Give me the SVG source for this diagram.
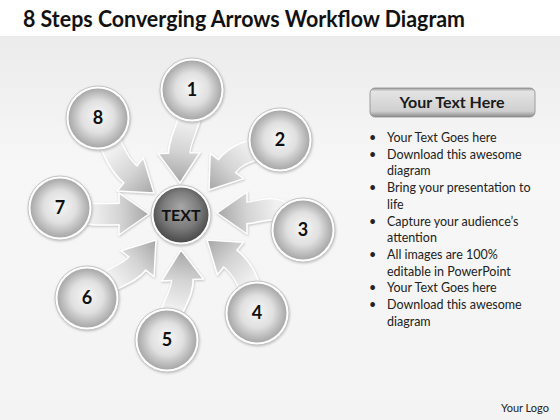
<svg xmlns="http://www.w3.org/2000/svg" xmlns:xlink="http://www.w3.org/1999/xlink" width="560" height="420" viewBox="0 0 560 420">
<defs>
<style>
.title{font-family:Lato,"Open Sans","Liberation Sans",sans-serif;font-weight:bold;font-size:22px;fill:#111}
.num{font-family:Lato,"Open Sans","Liberation Sans",sans-serif;font-weight:bold;font-size:18px;fill:#111;text-anchor:middle}
.ctext{font-family:Lato,"Open Sans","Liberation Sans",sans-serif;font-weight:bold;font-size:16px;fill:#111;text-anchor:middle}
.hdr{font-family:Lato,"Open Sans","Liberation Sans",sans-serif;font-weight:bold;font-size:16px;fill:#1a1a1a;text-anchor:middle}
.bl{font-family:Lato,"Open Sans","Liberation Sans",sans-serif;font-size:12.5px;fill:#222}
.logo{font-family:Lato,"Open Sans","Liberation Sans",sans-serif;font-size:11px;fill:#222}
.so{fill:none;stroke:#fff;stroke-width:23}
.si{fill:none;stroke-width:20}
.hd{stroke:#fff;stroke-width:1.5;stroke-linejoin:round}
.ring{fill:#fff;stroke:#c4c4c4;stroke-width:1;filter:url(#sh)}
.ball{fill:url(#bg)}
</style>
<filter id="sh" x="-20%" y="-20%" width="140%" height="140%">
<feDropShadow dx="0.5" dy="1" stdDeviation="1.2" flood-color="#808080" flood-opacity="0.45"/>
</filter>
<linearGradient id="bgd" x1="0" y1="0" x2="0" y2="1">
<stop offset="0" stop-color="#e8e8e8"/>
<stop offset="0.4" stop-color="#f7f7f7"/>
<stop offset="1" stop-color="#f3f3f3"/>
</linearGradient>
<linearGradient id="ag">
<stop offset="0" stop-color="#f0f0f0"/>
<stop offset="0.5" stop-color="#d4d4d4"/>
<stop offset="1" stop-color="#a6a6a6"/>
</linearGradient>
<linearGradient id="g1" href="#ag" xlink:href="#ag" gradientUnits="userSpaceOnUse" x1="192" y1="122" x2="180" y2="183"/>
<linearGradient id="g2" href="#ag" xlink:href="#ag" gradientUnits="userSpaceOnUse" x1="252" y1="148" x2="209" y2="190"/>
<linearGradient id="g3" href="#ag" xlink:href="#ag" gradientUnits="userSpaceOnUse" x1="276" y1="205" x2="217" y2="213"/>
<linearGradient id="g4" href="#ag" xlink:href="#ag" gradientUnits="userSpaceOnUse" x1="250" y1="282" x2="207" y2="240"/>
<linearGradient id="g5" href="#ag" xlink:href="#ag" gradientUnits="userSpaceOnUse" x1="170" y1="308" x2="181" y2="250"/>
<linearGradient id="g6" href="#ag" xlink:href="#ag" gradientUnits="userSpaceOnUse" x1="112" y1="277" x2="156" y2="240"/>
<linearGradient id="g7" href="#ag" xlink:href="#ag" gradientUnits="userSpaceOnUse" x1="92" y1="216" x2="149" y2="214"/>
<linearGradient id="g8" href="#ag" xlink:href="#ag" gradientUnits="userSpaceOnUse" x1="113" y1="150" x2="154" y2="193"/>
<radialGradient id="bg" cx="0.5" cy="0.5" r="0.5" fx="0.5" fy="0.45">
<stop offset="0" stop-color="#f7f7f7"/>
<stop offset="0.55" stop-color="#e0e0e0"/>
<stop offset="1" stop-color="#a8a8a8"/>
</radialGradient>
<radialGradient id="cg" cx="0.5" cy="0.45" r="0.55" fx="0.5" fy="0.35">
<stop offset="0" stop-color="#a8a8a8"/>
<stop offset="0.6" stop-color="#7c7c7c"/>
<stop offset="1" stop-color="#4a4a4a"/>
</radialGradient>
<linearGradient id="hg" x1="0" y1="0" x2="0" y2="1">
<stop offset="0" stop-color="#9a9a9a"/>
<stop offset="0.12" stop-color="#e4e4e4"/>
<stop offset="0.8" stop-color="#cfcfcf"/>
<stop offset="1" stop-color="#8a8a8a"/>
</linearGradient>
</defs>

<rect x="0" y="0" width="560" height="420" fill="url(#bgd)"/>
<rect x="0" y="0" width="560" height="36" fill="#fff"/>
<text class="title" x="23" y="27" textLength="442" lengthAdjust="spacingAndGlyphs">8 Steps Converging Arrows Workflow Diagram</text>

<g id="connectors" filter="url(#sh)">
<g id="a1">
<path class="so" d="M193 100 C192 122 178.7 139 179.1 153"/>
<polygon class="hd" fill="url(#g1)" points="158.1,153.6 180,183 200.1,152.4"/>
<path class="si" stroke="url(#g1)" d="M193 100 C192 122 178.7 139 179.2 155"/>
</g>
<g id="a2">
<path class="so" d="M272 148 C252 148 235.4 154.8 227 166"/>
<polygon class="hd" fill="url(#g2)" points="210.2,153.4 209,190 243.8,178.6"/>
<path class="si" stroke="url(#g2)" d="M272 148 C252 148 235.4 154.8 225.8 167.6"/>
</g>
<g id="a3">
<path class="so" d="M292 222 C276 200 261 213 247 213"/>
<polygon class="hd" fill="url(#g3)" points="247,192 217,213 247,234"/>
<path class="si" stroke="url(#g3)" d="M292 222 C276 200 261 213 245 213"/>
</g>
<g id="a4">
<path class="so" d="M252 300 C250 282 241.3 267.3 230.4 258.6"/>
<polygon class="hd" fill="url(#g4)" points="243.4,242.2 207,240 217.4,275"/>
<path class="si" stroke="url(#g4)" d="M252 300 C250 282 241.3 267.3 228.8 257.4"/>
</g>
<g id="a5">
<path class="so" d="M168 325 C170 308 183.2 294 182.5 280"/>
<polygon class="hd" fill="url(#g5)" points="203.5,279 181,250 161.5,281"/>
<path class="si" stroke="url(#g5)" d="M168 325 C170 308 183.2 294 182.4 278"/>
</g>
<g id="a6">
<path class="so" d="M95 290 C112 277 128.7 274.8 137.4 263.7"/>
<polygon class="hd" fill="url(#g6)" points="154,276.7 156,240 120.8,250.7"/>
<path class="si" stroke="url(#g6)" d="M95 290 C112 277 128.7 274.8 138.6 262.1"/>
</g>
<g id="a7">
<path class="so" d="M70 210 C92 216 105 214 119 214"/>
<polygon class="hd" fill="url(#g7)" points="119,193 149,214 119,235"/>
<path class="si" stroke="url(#g7)" d="M70 210 C92 216 105 214 121 214"/>
</g>
<g id="a8">
<path class="so" d="M105 130 C113 150 119.2 165.7 130.3 174.4"/>
<polygon class="hd" fill="url(#g8)" points="117.3,191 154,193 143.3,157.8"/>
<path class="si" stroke="url(#g8)" d="M105 130 C113 150 119.2 165.7 131.9 175.6"/>
</g>
</g>

<g id="center">
<circle cx="181" cy="215" r="30" class="ring"/>
<circle cx="181" cy="215" r="27.5" fill="url(#cg)"/>
<text class="ctext" x="181" y="221">TEXT</text>
</g>

<g id="n1"><circle cx="192" cy="90" r="32" class="ring"/><circle cx="192" cy="90" r="29.5" class="ball"/><text class="num" x="192" y="96">1</text></g>
<g id="n2"><circle cx="280" cy="140" r="32" class="ring"/><circle cx="280" cy="140" r="29.5" class="ball"/><text class="num" x="280" y="146">2</text></g>
<g id="n3"><circle cx="303" cy="230" r="32" class="ring"/><circle cx="303" cy="230" r="29.5" class="ball"/><text class="num" x="303" y="236">3</text></g>
<g id="n4"><circle cx="257" cy="313" r="32" class="ring"/><circle cx="257" cy="313" r="29.5" class="ball"/><text class="num" x="257" y="319">4</text></g>
<g id="n5"><circle cx="167" cy="340" r="32" class="ring"/><circle cx="167" cy="340" r="29.5" class="ball"/><text class="num" x="167" y="346">5</text></g>
<g id="n6"><circle cx="87" cy="298" r="32" class="ring"/><circle cx="87" cy="298" r="29.5" class="ball"/><text class="num" x="87" y="304">6</text></g>
<g id="n7"><circle cx="60" cy="208" r="32" class="ring"/><circle cx="60" cy="208" r="29.5" class="ball"/><text class="num" x="60" y="214">7</text></g>
<g id="n8"><circle cx="98" cy="118" r="32" class="ring"/><circle cx="98" cy="118" r="29.5" class="ball"/><text class="num" x="98" y="124">8</text></g>

<g id="panel">
<rect x="370" y="88" width="165" height="29" rx="5" fill="url(#hg)" stroke="#8c8c8c" stroke-width="0.8"/>
<text class="hdr" x="452" y="108">Your Text Here</text>
<g class="bl">
<text x="369" y="142">•</text><text x="387" y="142">Your Text Goes here</text>
<text x="369" y="158.7">•</text><text x="387" y="158.7">Download this awesome</text>
<text x="387" y="175.4">diagram</text>
<text x="369" y="192.1">•</text><text x="387" y="192.1">Bring your presentation to</text>
<text x="387" y="208.8">life</text>
<text x="369" y="225.5">•</text><text x="387" y="225.5">Capture your audience’s</text>
<text x="387" y="242.2">attention</text>
<text x="369" y="258.9">•</text><text x="387" y="258.9">All images are 100%</text>
<text x="387" y="275.6">editable in PowerPoint</text>
<text x="369" y="292.3">•</text><text x="387" y="292.3">Your Text Goes here</text>
<text x="369" y="309">•</text><text x="387" y="309">Download this awesome</text>
<text x="387" y="325.7">diagram</text>
</g>
</g>

<text class="logo" x="501" y="412">Your Logo</text>
</svg>
